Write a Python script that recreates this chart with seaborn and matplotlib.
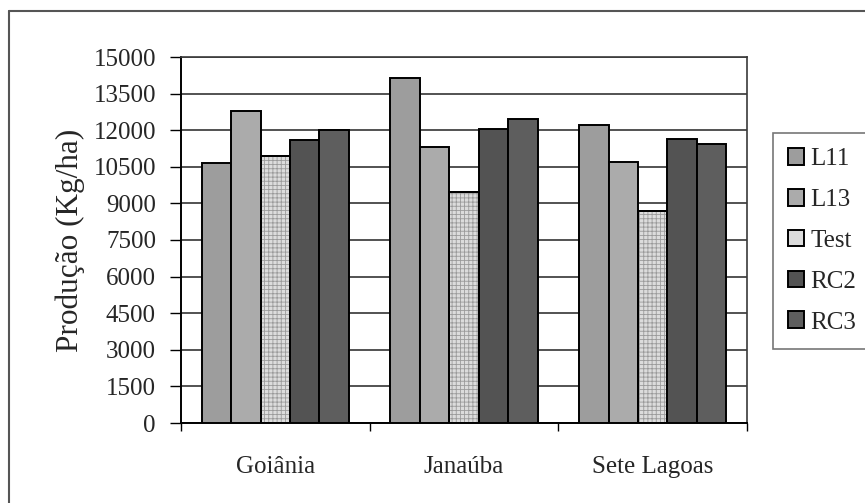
import numpy as np
import pandas as pd
import matplotlib
matplotlib.use("Agg")
import matplotlib.pyplot as plt
from matplotlib.patches import Rectangle
from matplotlib.lines import Line2D
import seaborn as sns

# Data
locais = ["Goiânia", "Janaúba", "Sete Lagoas"]
tratamentos = ["L11", "L13", "Test", "RC2", "RC3"]
L11 = [10650, 14150, 12200]
L13 = [12800, 11300, 10700]
Test = [10950, 9450, 8700]
RC2 = [11600, 12050, 11650]
RC3 = [12000, 12450, 11450]
y_ticks = [0, 1500, 3000, 4500, 6000, 7500, 9000, 10500, 12000, 13500, 15000]

series = {"L11": L11, "L13": L13, "Test": Test, "RC2": RC2, "RC3": RC3}
rows = []
for t in tratamentos:
    for loc, v in zip(locais, series[t]):
        rows.append({"Local": loc, "Tratamento": t, "Produção": v})
df = pd.DataFrame(rows)

fill = {"L11": "#9d9d9d", "L13": "#ababab", "Test": "#dcdcdc",
        "RC2": "#535353", "RC3": "#5e5e5e"}

sns.set_theme(style="white")
plt.rcParams["font.family"] = ["Liberation Serif", "DejaVu Serif"]
plt.rcParams["hatch.linewidth"] = 0.6

W, H = 865, 503
fig = plt.figure(figsize=(W / 100, H / 100), dpi=100)
ax = fig.add_axes([181 / W, 1 - 423 / H, (747 - 181) / W, (423 - 57) / H])

sns.barplot(data=df, x="Local", y="Produção", hue="Tratamento",
            order=locais, hue_order=tratamentos, palette=fill,
            width=0.78, gap=0, saturation=1, edgecolor="black",
            linewidth=1.4, errorbar=None,
            legend=False, ax=ax, zorder=3)

# fine grid texture on the Test bars
n = len(locais)
for k, p in enumerate(ax.patches[:len(tratamentos) * n]):
    t = tratamentos[k // n]
    if t == "Test":
        ax.add_patch(Rectangle(p.get_xy(), p.get_width(), p.get_height(),
                               facecolor="none", edgecolor="#9a9a9a",
                               hatch="++++", linewidth=0, zorder=3.5))
        ax.add_patch(Rectangle(p.get_xy(), p.get_width(), p.get_height(),
                               facecolor="none", edgecolor="black",
                               linewidth=1.4, zorder=3.6))

ax.set_ylim(0, 15000)
ax.set_xlim(-0.5, 2.5)
ax.set_yticks(y_ticks)
ax.set_yticklabels([str(v) for v in y_ticks], fontsize=18)
ax.yaxis.grid(True, color="#444444", linewidth=1.3, zorder=0)
ax.set_axisbelow(True)

ax.set_xticks(range(n))
ax.set_xticklabels(locais, fontsize=18)
ax.set_xticks([-0.5, 0.5, 1.5, 2.5], minor=True)
ax.tick_params(axis="x", which="major", length=0, pad=24)
ax.tick_params(axis="x", which="minor", length=6, width=1.0,
               color="black", direction="out", bottom=True)
ax.tick_params(axis="y", length=8, width=1.0, color="black",
               direction="out", left=True, pad=10)

ax.set_xlabel("")
ax.set_ylabel("Produção (Kg/ha)", fontsize=22.5)
ax.yaxis.set_label_coords(-0.17, 0.5)

for side in ["left", "bottom"]:
    ax.spines[side].set_color("black")
    ax.spines[side].set_linewidth(1.4)
for side in ["top", "right"]:
    ax.spines[side].set_color("#3a3a3a")
    ax.spines[side].set_linewidth(1.2)
    ax.spines[side].set_visible(True)

# legend
handles = [Rectangle((0, 0), 1, 1, facecolor=fill[t], edgecolor="black",
                     linewidth=1.4) for t in tratamentos]
leg = fig.legend(handles, tratamentos, loc="upper left",
                 bbox_to_anchor=(773 / W, 1 - 133 / H),
                 fontsize=18, frameon=True, fancybox=False,
                 edgecolor="#555555", borderpad=0.6, labelspacing=0.75,
                 handlelength=0.65, handleheight=0.65, handletextpad=0.25,
                 borderaxespad=0)
leg.get_frame().set_linewidth(1.2)

# outer chart frame
fig.add_artist(Line2D([9 / W, 9 / W], [1 - 11 / H, 0], color="#555555",
                      linewidth=1.5, transform=fig.transFigure))
fig.add_artist(Line2D([9 / W, 1], [1 - 11 / H, 1 - 11 / H], color="#555555",
                      linewidth=1.5, transform=fig.transFigure))

fig.savefig("out.png", dpi=100)
